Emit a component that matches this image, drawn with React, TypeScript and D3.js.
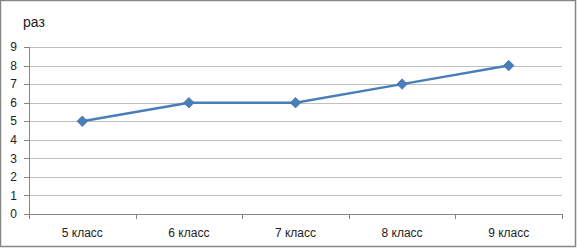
import React, { useRef, useEffect } from "react";
import * as d3 from "d3";

const categories = ["5 класс", "6 класс", "7 класс", "8 класс", "9 класс"];
const values = [5, 6, 6, 7, 8];
const yTicks = [0, 1, 2, 3, 4, 5, 6, 7, 8, 9];
const yTitle = "раз";

const W = 577;
const H = 248;

export default function App() {
  const svgRef = useRef<SVGSVGElement>(null);

  useEffect(() => {
    if (!svgRef.current) return;
    const svg = d3.select(svgRef.current);
    svg.selectAll("*").remove();

    const font = "'Liberation Sans', Arial, sans-serif";
    const left = 29;
    const right = 562;
    const top = 47;
    const bottom = 214;

    // outer frame
    svg
      .append("rect")
      .attr("x", 0.5)
      .attr("y", 0.5)
      .attr("width", W - 2)
      .attr("height", H - 2)
      .attr("fill", "#fff")
      .attr("stroke", "#868686")
      .attr("stroke-width", 1.5);

    const x = d3.scaleBand<string>().domain(categories).range([left, right]);
    const y = d3.scaleLinear().domain([0, 9]).range([bottom, top]);

    // gridlines
    svg
      .append("g")
      .selectAll("line")
      .data(yTicks.filter((t) => t > 0))
      .join("line")
      .attr("x1", left)
      .attr("x2", right)
      .attr("y1", (d) => Math.round(y(d)) + 0.5)
      .attr("y2", (d) => Math.round(y(d)) + 0.5)
      .attr("stroke", "#bfbfbf")
      .attr("stroke-width", 1);

    // y axis
    const yAxis = svg.append("g");
    yAxis
      .append("line")
      .attr("x1", left + 0.5)
      .attr("x2", left + 0.5)
      .attr("y1", top)
      .attr("y2", bottom)
      .attr("stroke", "#868686");
    yAxis
      .selectAll("line.tick")
      .data(yTicks)
      .join("line")
      .attr("class", "tick")
      .attr("x1", left - 5)
      .attr("x2", left)
      .attr("y1", (d) => Math.round(y(d)) + 0.5)
      .attr("y2", (d) => Math.round(y(d)) + 0.5)
      .attr("stroke", "#868686");
    yAxis
      .selectAll("text")
      .data(yTicks)
      .join("text")
      .attr("x", 17)
      .attr("y", (d) => y(d))
      .attr("dy", "0.35em")
      .attr("text-anchor", "end")
      .attr("font-family", font)
      .attr("font-size", 12)
      .attr("fill", "#222")
      .text((d) => d);

    // x axis
    const xAxis = svg.append("g");
    xAxis
      .append("line")
      .attr("x1", left)
      .attr("x2", right)
      .attr("y1", bottom + 0.5)
      .attr("y2", bottom + 0.5)
      .attr("stroke", "#868686");
    const bounds = [...categories.map((c) => x(c) as number), right];
    xAxis
      .selectAll("line.tick")
      .data(bounds)
      .join("line")
      .attr("class", "tick")
      .attr("x1", (d) => Math.round(d) + 0.5)
      .attr("x2", (d) => Math.round(d) + 0.5)
      .attr("y1", bottom)
      .attr("y2", bottom + 5)
      .attr("stroke", "#868686");
    xAxis
      .selectAll("text")
      .data(categories)
      .join("text")
      .attr("x", (d) => (x(d) as number) + x.bandwidth() / 2)
      .attr("y", 237)
      .attr("text-anchor", "middle")
      .attr("font-family", font)
      .attr("font-size", 12)
      .attr("fill", "#222")
      .text((d) => d);

    // axis title
    svg
      .append("text")
      .attr("x", 23)
      .attr("y", 27)
      .attr("font-family", font)
      .attr("font-size", 14)
      .attr("fill", "#222")
      .text(yTitle);

    // line
    const cx = (i: number) => (x(categories[i]) as number) + x.bandwidth() / 2;
    const line = d3
      .line<number>()
      .x((_, i) => cx(i))
      .y((d) => y(d));
    svg
      .append("path")
      .datum(values)
      .attr("d", line)
      .attr("fill", "none")
      .attr("stroke", "#4a7ebb")
      .attr("stroke-width", 2.5)
      .attr("stroke-linejoin", "round");

    // diamond markers
    const diamond = d3.symbol().type(d3.symbolDiamond2).size(70);
    svg
      .append("g")
      .selectAll("path")
      .data(values)
      .join("path")
      .attr("d", diamond)
      .attr("transform", (d, i) => `translate(${cx(i)},${y(d)})`)
      .attr("fill", "#4a7ebb")
      .attr("stroke", "#3f72b0")
      .attr("stroke-width", 0.8);
  }, []);

  return (
    <div style={{ position: "fixed", left: 0, top: 0 }}>
      <svg ref={svgRef} width={W} height={H} style={{ display: "block" }} />
    </div>
  );
}
